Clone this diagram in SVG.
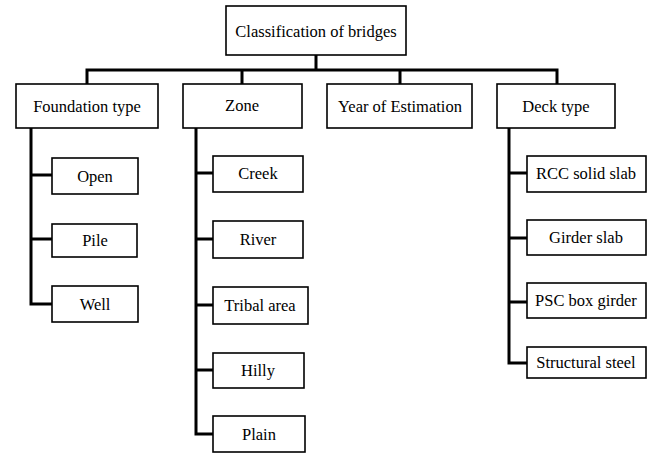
<svg xmlns="http://www.w3.org/2000/svg" width="656" height="453" viewBox="0 0 656 453">
<style>
.box{fill:#fff;stroke:#000;stroke-width:1.6}
text{font-family:'Liberation Serif','Times New Roman',Times,serif;font-size:16.5px;fill:#000;text-anchor:middle}
.con{fill:none;stroke:#000;stroke-width:3;stroke-linejoin:miter}
</style>
<rect width="656" height="453" fill="#fff"/>
<g id="connectors">
<path class="con" d="M316,55V70M87,84V70H557V84M242,70V84M400,70V84"/>
<path class="con" d="M31,128V304H52M31,175H52M31,239H52"/>
<path class="con" d="M196,128V434H213M196,173H213M196,239H213M196,305H213M196,370H213"/>
<path class="con" d="M509,128V363H527M509,173H527M509,238H527M509,302H527"/>
</g>
<g id="root"><rect class="box" x="226" y="6" width="180" height="49"/><text x="316" y="37">Classification of bridges</text></g>
<g id="foundation"><rect class="box" x="16" y="84" width="142" height="44"/><text x="87" y="112">Foundation type</text></g>
<g id="zone"><rect class="box" x="183" y="84" width="119" height="44"/><text x="242" y="111">Zone</text></g>
<g id="year"><rect class="box" x="327" y="84" width="145" height="44"/><text x="400" y="112">Year of Estimation</text></g>
<g id="deck"><rect class="box" x="497" y="84" width="118" height="44"/><text x="556" y="112">Deck type</text></g>
<g id="open"><rect class="box" x="52" y="158" width="86" height="36"/><text x="95" y="182">Open</text></g>
<g id="pile"><rect class="box" x="52" y="224" width="85" height="33"/><text x="95" y="246">Pile</text></g>
<g id="well"><rect class="box" x="52" y="286" width="86" height="36"/><text x="95" y="310">Well</text></g>
<g id="creek"><rect class="box" x="213" y="156" width="90" height="36"/><text x="258" y="179">Creek</text></g>
<g id="river"><rect class="box" x="213" y="221" width="90" height="37"/><text x="258" y="245">River</text></g>
<g id="tribal"><rect class="box" x="213" y="287" width="95" height="37"/><text x="260" y="311">Tribal area</text></g>
<g id="hilly"><rect class="box" x="213" y="353" width="91" height="35"/><text x="258" y="376">Hilly</text></g>
<g id="plain"><rect class="box" x="213" y="416" width="92" height="36"/><text x="259" y="440">Plain</text></g>
<g id="rcc"><rect class="box" x="527" y="156" width="119" height="36"/><text x="586" y="179">RCC solid slab</text></g>
<g id="girder"><rect class="box" x="527" y="220" width="119" height="35"/><text x="586" y="243">Girder slab</text></g>
<g id="psc"><rect class="box" x="527" y="283" width="119" height="35"/><text x="586" y="306">PSC box girder</text></g>
<g id="steel"><rect class="box" x="527" y="347" width="119" height="31"/><text x="586" y="368">Structural steel</text></g>
</svg>
